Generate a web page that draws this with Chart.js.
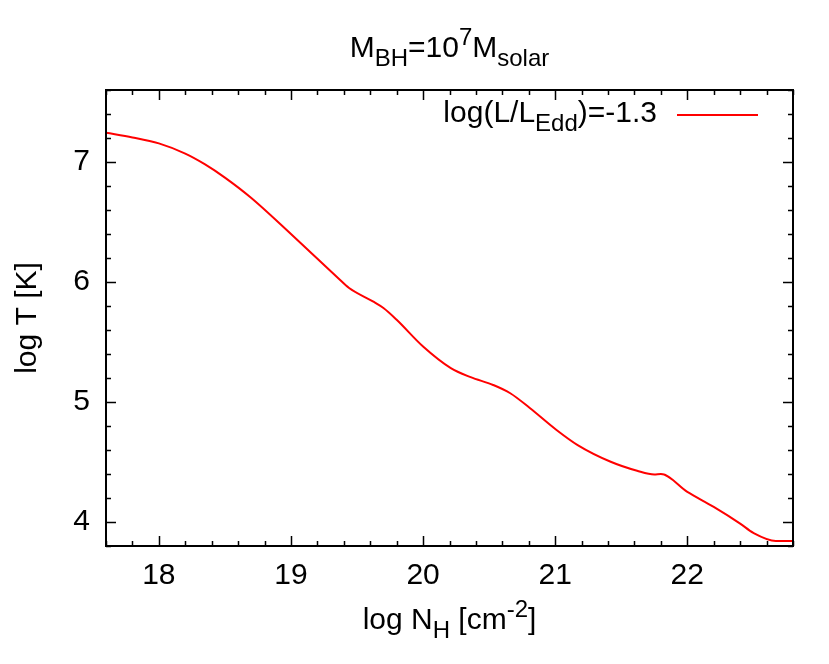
<!DOCTYPE html>
<html>
<head>
<meta charset="utf-8">
<script src="https://cdn.jsdelivr.net/npm/chart.js@4/dist/chart.umd.min.js"></script>
<style>
  html, body { margin: 0; padding: 0; background: #fff; }
  #wrap { width: 829px; height: 664px; }
</style>
</head>
<body>
<div id="wrap"><canvas id="tempChart" width="829" height="664"></canvas></div>
<script>
// data
const nH = [17.60, 17.80, 18.00, 18.20, 18.35, 18.50, 18.70, 19.00, 19.36, 19.44, 19.62, 19.70,
            19.80, 20.00, 20.21, 20.36, 20.53, 20.66, 20.81, 21.01, 21.17, 21.42, 21.62, 21.75,
            21.80, 22.00, 22.20, 22.40, 22.50, 22.67, 22.80];
const logT = [7.243, 7.205, 7.155, 7.070, 6.980, 6.870, 6.700, 6.400, 6.030, 5.950, 5.838, 5.783,
              5.685, 5.462, 5.282, 5.207, 5.142, 5.073, 4.948, 4.767, 4.641, 4.502, 4.427, 4.396,
              4.399, 4.251, 4.126, 3.987, 3.909, 3.842, 3.842];
const xTicks = [18, 19, 20, 21, 22];
const yTicks = [4, 5, 6, 7];
const xRange = [17.6, 22.8];
const yRange = [3.8, 7.6];
const minorStep = 0.2;

const FONT = '"Liberation Sans", Arial, sans-serif';
const FS = 30;

// draw text with sub/superscripts; parts = [[text, 'n'|'sub'|'sup'], ...]
function drawRich(ctx, parts, x, y, align, size) {
    const small = Math.round(size * 0.8);
    const fontOf = p => (p[1] === 'n' ? size : small) + 'px ' + FONT;
    let total = 0;
    parts.forEach(p => { ctx.font = fontOf(p); total += ctx.measureText(p[0]).width; });
    let cx = align === 'center' ? x - total / 2 : (align === 'right' ? x - total : x);
    ctx.textAlign = 'left';
    ctx.textBaseline = 'alphabetic';
    parts.forEach(p => {
        ctx.font = fontOf(p);
        let dy = 0;
        if (p[1] === 'sub') dy = size * 0.3;
        if (p[1] === 'sup') dy = -size * 0.4;
        ctx.fillText(p[0], cx, y + dy);
        cx += ctx.measureText(p[0]).width;
    });
}

const framePlugin = {
    id: 'frame',
    afterDraw(chart) {
        const ctx = chart.ctx;
        const a = chart.chartArea;
        const xs = chart.scales.x, ys = chart.scales.y;
        ctx.save();
        ctx.strokeStyle = '#000';
        ctx.fillStyle = '#000';

        // inward ticks on all four sides
        ctx.lineWidth = 1.5;
        ctx.beginPath();
        const nx = Math.round((xRange[1] - xRange[0]) / minorStep);
        for (let i = 0; i <= nx; i++) {
            const v = xRange[0] + i * minorStep;
            const major = Math.abs(v - Math.round(v)) < 1e-6;
            const len = major ? 10 : 5;
            const px = Math.round(xs.getPixelForValue(v)) + 0.5;
            ctx.moveTo(px, a.bottom); ctx.lineTo(px, a.bottom - len);
            ctx.moveTo(px, a.top); ctx.lineTo(px, a.top + len);
        }
        const ny = Math.round((yRange[1] - yRange[0]) / minorStep);
        for (let i = 0; i <= ny; i++) {
            const v = yRange[0] + i * minorStep;
            const major = Math.abs(v - Math.round(v)) < 1e-6;
            const len = major ? 10 : 5;
            const py = Math.round(ys.getPixelForValue(v)) + 0.5;
            ctx.moveTo(a.left, py); ctx.lineTo(a.left + len, py);
            ctx.moveTo(a.right, py); ctx.lineTo(a.right - len, py);
        }
        ctx.stroke();

        // border
        ctx.lineWidth = 2;
        ctx.strokeRect(a.left, a.top, a.right - a.left, a.bottom - a.top);

        // title
        drawRich(ctx, [['M', 'n'], ['BH', 'sub'], ['=10', 'n'], ['7', 'sup'], ['M', 'n'], ['solar', 'sub']],
                 (a.left + a.right) / 2, 57, 'center', FS);

        // legend
        drawRich(ctx, [['log(L/L', 'n'], ['Edd', 'sub'], [')=-1.3', 'n']], 657, 122, 'right', FS);
        ctx.strokeStyle = '#ff0000';
        ctx.lineWidth = 2;
        ctx.beginPath();
        ctx.moveTo(677, 115); ctx.lineTo(758, 115);
        ctx.stroke();

        // axis titles
        drawRich(ctx, [['log N', 'n'], ['H', 'sub'], [' [cm', 'n'], ['-2', 'sup'], [']', 'n']],
                 (a.left + a.right) / 2, 629, 'center', FS);
        ctx.translate(36, (a.top + a.bottom) / 2);
        ctx.rotate(-Math.PI / 2);
        drawRich(ctx, [['log T [K]', 'n']], 0, 0, 'center', FS);
        ctx.restore();
    }
};

const ctx = document.getElementById('tempChart').getContext('2d');
new Chart(ctx, {
    type: 'scatter',
    data: {
        datasets: [{
            label: 'log(L/LEdd)=-1.3',
            data: nH.map((x, i) => ({ x: x, y: logT[i] })),
            showLine: true,
            borderColor: '#ff0000',
            borderWidth: 2,
            pointRadius: 0,
            cubicInterpolationMode: 'monotone'
        }]
    },
    options: {
        responsive: false,
        animation: false,
        layout: { padding: { left: 0, top: 90, right: 36, bottom: 0 } },
        plugins: {
            legend: { display: false },
            title: { display: false },
            tooltip: { enabled: false }
        },
        scales: {
            x: {
                type: 'linear',
                min: xRange[0],
                max: xRange[1],
                afterBuildTicks: s => { s.ticks = xTicks.map(v => ({ value: v })); },
                afterFit: s => { s.height = 118; },
                grid: { display: false, drawTicks: false },
                border: { display: false },
                ticks: {
                    padding: 12,
                    color: '#000',
                    maxRotation: 0,
                    font: { size: FS, family: FONT }
                }
            },
            y: {
                type: 'linear',
                min: yRange[0],
                max: yRange[1],
                afterBuildTicks: s => { s.ticks = yTicks.map(v => ({ value: v })); },
                afterFit: s => { s.width = 106; },
                grid: { display: false, drawTicks: false },
                border: { display: false },
                ticks: {
                    padding: 16,
                    color: '#000',
                    font: { size: FS, family: FONT }
                }
            }
        }
    },
    plugins: [framePlugin]
});
</script>
</body>
</html>
